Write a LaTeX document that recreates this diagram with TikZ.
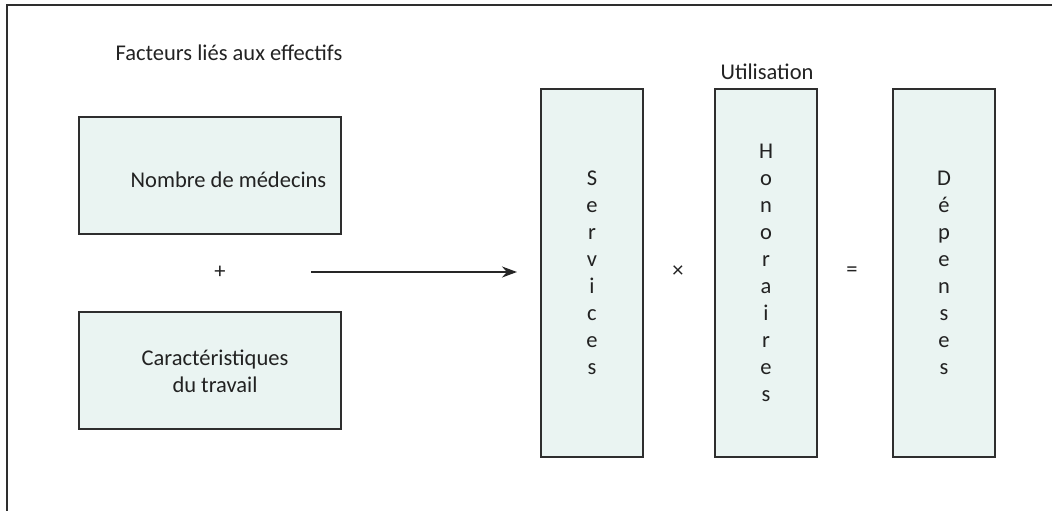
\documentclass[tikz,border=0pt]{standalone}
\usepackage{fontspec}
\setmainfont{Carlito}
\usetikzlibrary{arrows.meta}
\definecolor{boxFill}{HTML}{EAF4F2}
\definecolor{lineGray}{HTML}{2E2E2E}
\definecolor{textGray}{HTML}{222222}
\newcommand{\tallBox}[3]{%%
  \node[tallStyle] (#1) at (#2,273) {#3};
}
\newcommand{\opSign}[3]{%%
  \node[textStyle] (#1) at (#2,272) {#3};
}

\begin{document}
\begin{tikzpicture}[%%
  x=1pt,y=-1pt,%%
  every node/.style={font=\fontsize{22.5}{27}\selectfont},%%
  frameStyle/.style={line width=2pt,lineGray},%%
  boxStyle/.style={draw=lineGray,line width=1.8pt,fill=boxFill,inner sep=0pt,minimum width=262pt,minimum height=117pt},%%
  tallStyle/.style={draw=lineGray,line width=1.8pt,fill=boxFill,inner sep=0pt,minimum width=102pt,minimum height=368pt,align=center,text=textGray},%%
  textStyle/.style={text=textGray,align=center,inner sep=0pt},%%
  arrowStyle/.style={-{Stealth[length=15pt,width=11pt]},line width=2pt,black!85}
]
\useasboundingbox (0,0) rectangle (1052,511);
%%
%% The open frame.
\draw[frameStyle] (7,511) -- (7,5) -- (1052,5);
%%
%% Staff factors.
\node[textStyle] (facteurs) at (229,53) {Facteurs liés aux effectifs};
\node[boxStyle] (nombre) at (210,175.5) {};
\node[textStyle] (nombreText) at (228.5,180) {Nombre de médecins};
\opSign{plus}{220}{+}
\node[boxStyle] (travail) at (210,370.5) {};
\node[textStyle] (travailText) at (215,371) {Caractéristiques\\du travail};
%%
%% Use and spending.
\node[textStyle] (utilisation) at (767,72) {Utilisation};
\tallBox{services}{592}{S\\e\\r\\v\\i\\c\\e\\s}
\opSign{fois}{678}{×}
\tallBox{honoraires}{766}{H\\o\\n\\o\\r\\a\\i\\r\\e\\s}
\opSign{egal}{852}{=}
\tallBox{depenses}{944}{D\\é\\p\\e\\n\\s\\e\\s}
%%
%% The arrow.
\coordinate (arrowStart) at (311,272);
\coordinate (arrowEnd) at (517,272);
\draw[arrowStyle] (arrowStart) -- (arrowEnd);
\end{tikzpicture}
\end{document}
